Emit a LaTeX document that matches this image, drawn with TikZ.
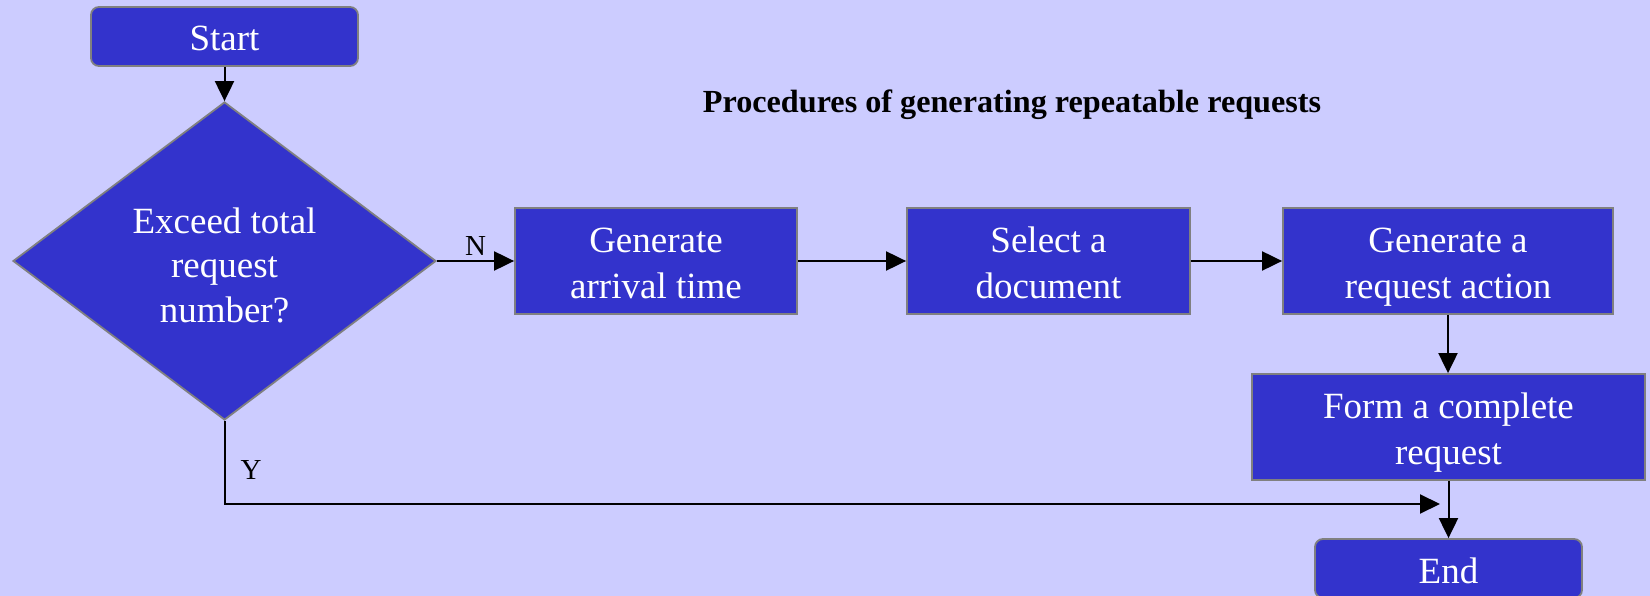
\documentclass[tikz,border=0pt]{standalone}
\usepackage{fontspec}
\setmainfont{Liberation Serif}
\usetikzlibrary{shapes.geometric,arrows.meta}
\definecolor{bgblue}{HTML}{CCCCFF}
\definecolor{boxblue}{HTML}{3333CC}
\definecolor{edgegray}{HTML}{808080}
% fixed struts so that every box centres its lines the same way
\newcommand{\ls}{\rule[-8pt]{0pt}{45pt}}
\newcommand{\tallstrut}{\rule{0pt}{42pt}}
\tikzset{
  box/.style={draw=edgegray, line width=1.8pt, fill=boxblue, text=white,
    align=center, inner sep=0pt, font=\fontsize{37}{44}\selectfont},
  termbox/.style={box, rounded corners=8pt, minimum width=267pt, minimum height=59pt},
  stepbox/.style={box, minimum height=106pt},
  decbox/.style={box, diamond, aspect=1.33, minimum width=423pt, minimum height=318pt},
  flow/.style={line width=2pt, -{Triangle[length=20pt,width=19pt]}},
  lbl/.style={font=\fontsize{29}{34}\selectfont, text=black, inner sep=0pt}
}
\begin{document}
\begin{tikzpicture}[x=1pt, y=-1pt]
  \useasboundingbox (0,0) rectangle (1650,596);
  \clip (0,0) rectangle (1650,596);
  \fill[bgblue] (0,0) rectangle (1650,596);

  % title
  \node[font=\fontsize{32.2}{38}\selectfont\bfseries, inner sep=0pt] (title) at (1012,105)
    {Procedures of generating repeatable requests};

  % flow nodes
  \node[termbox] (start) at (224.5,36.5) {\ls Start\ls};
  \node[decbox] (dec) at (224.5,261) {\tallstrut Exceed total\\request\\number?\ls};
  \node[stepbox, minimum width=282pt] (arr) at (656,261) {\ls Generate\\arrival time\ls};
  \node[stepbox, minimum width=283pt] (doc) at (1048.5,261) {\ls Select a\\document\ls};
  \node[stepbox, minimum width=330pt] (act) at (1448,261) {\ls Generate a\\request action\ls};
  \node[stepbox, minimum width=393pt] (form) at (1448.5,427) {\ls Form a complete\\request\ls};
  \node[termbox] (end) at (1448.5,568.5) {\ls End\ls};

  \coordinate (join) at (1440,504);

  % connectors
  \draw[flow] (start) -- (dec.north);
  \draw[flow] (dec.east |- arr.west) -- node[lbl, pos=0.5, above=4pt] (nlab) {N} (arr.west);
  \draw[flow] (arr) -- (doc);
  \draw[flow] (doc) -- (act);
  \draw[flow] (act.south) -- (act.south |- form.north);
  \draw[flow] (form.south) -- (end.north);
  \draw[flow] (dec.south) |- (join);
  \node[lbl] (ylab) at (251,470) {Y};
\end{tikzpicture}
\end{document}
